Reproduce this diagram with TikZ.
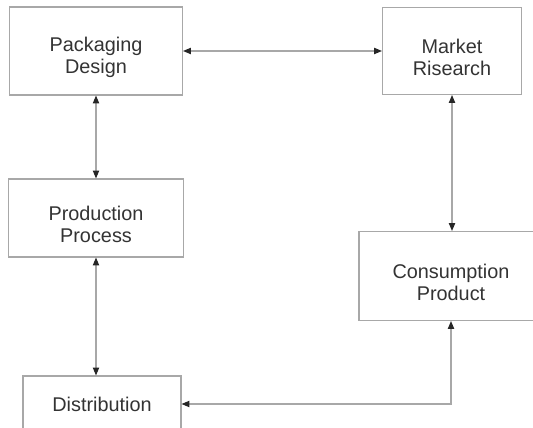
\documentclass[tikz,border=0pt]{standalone}
\usepackage{fontspec}
\setmainfont{Liberation Sans}
\usetikzlibrary{arrows.meta, positioning}
\definecolor{boxline}{HTML}{A8A8A8}
\definecolor{textgray}{HTML}{333333}
\begin{document}
\begin{tikzpicture}[
                x=0.02cm, y=-0.02cm,
                block/.style={draw=boxline, line width=0.6pt, rectangle, align=center,
                    text=textgray, font=\fontsize{11.3}{12.8}\selectfont},
                twoline/.style={block, text height=28pt},
                link/.style={draw=boxline, line width=0.6pt,
                    {Triangle[length=4.5pt, width=3.6pt, color=black!85]}-{Triangle[length=4.5pt, width=3.6pt, color=black!85]}}
            ]

                \useasboundingbox (0,0) rectangle (533,428);

                \node[twoline, minimum width=173*0.02cm, minimum height=88*0.02cm] (packaging) at (96,51)    {Packaging\\Design};
                \node[twoline, minimum width=139*0.02cm, minimum height=87*0.02cm] (market)    at (452,51)   {Market\\Risearch};
                \node[twoline, minimum width=175*0.02cm, minimum height=78*0.02cm] (production) at (96,218)  {Production\\Process};
                \node[twoline, minimum width=184*0.02cm, minimum height=89*0.02cm] (consumption) at (451,276) {Consumption\\Product};
                \node[block, minimum width=158*0.02cm, minimum height=56*0.02cm] (distribution) at (102,404) {Distribution};

                \draw[link] (packaging) -- (market);
                \draw[link] (packaging) -- (production);
                \draw[link] (production.south) -- (production.south |- distribution.north);
                \draw[link] (market.south) -- (market.south |- consumption.north);
                \draw[link] (consumption.south) |- (distribution.east);

            \end{tikzpicture}
\end{document}
